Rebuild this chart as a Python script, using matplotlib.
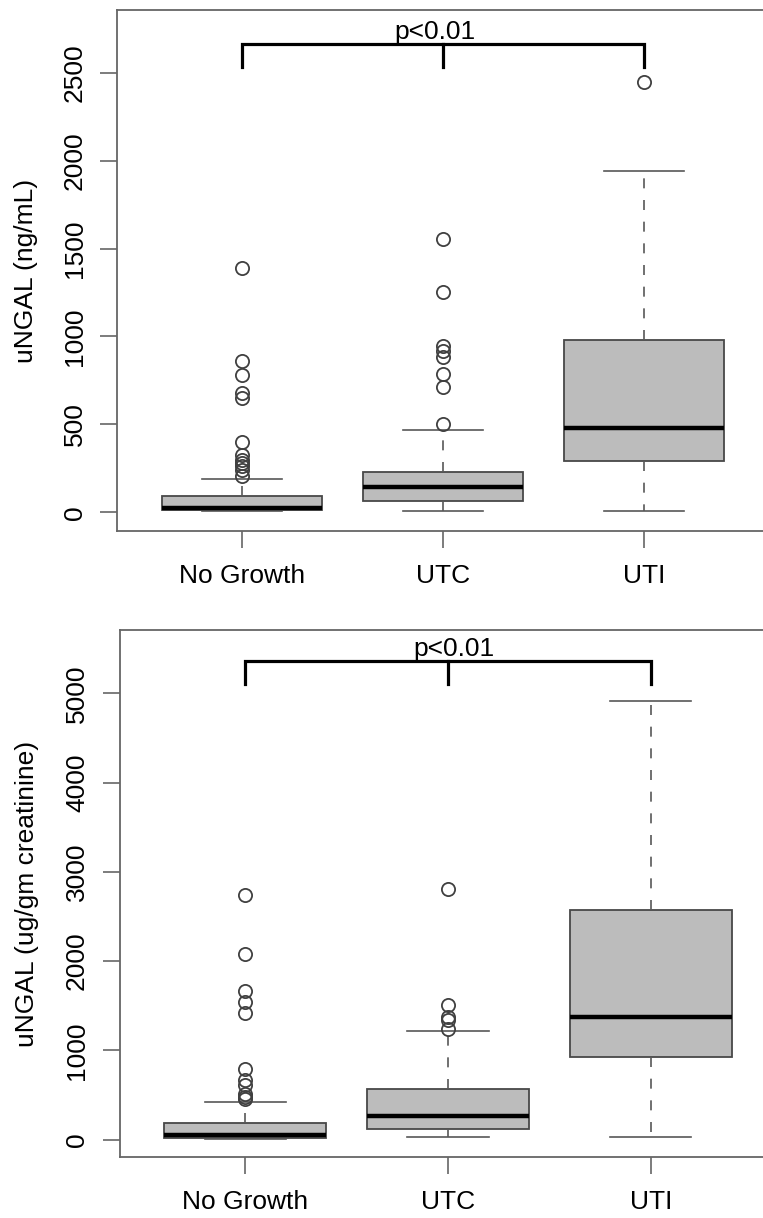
#! /usr/bin/env python3

import matplotlib
matplotlib.use('Agg')
import matplotlib.pyplot as plt

plt.rcParams['font.family'] = ['Liberation Sans', 'DejaVu Sans']

groups = ['No Growth', 'UTC', 'UTI']
positions = [1, 2, 3]

# uNGAL (ng/mL)
ml_q1 = [11, 62, 291]
ml_med = [25, 144, 481]
ml_q3 = [91, 228, 980]
ml_lo = [5, 8, 8]
ml_hi = [190, 467, 1939]
ml_fliers = [
    [1392, 858, 782, 678, 650, 398, 328, 298, 281, 261, 243, 205],
    [1555, 1252, 945, 918, 885, 785, 710, 504],
    [2449],
]
ml_ticks = [0, 500, 1000, 1500, 2000, 2500]

# uNGAL (ug/gm creatinine)
cr_q1 = [22, 122, 929]
cr_med = [48, 265, 1378]
cr_q3 = [186, 565, 2571]
cr_lo = [11, 24, 26]
cr_hi = [422, 1218, 4920]
cr_fliers = [
    [2739, 2085, 1666, 1543, 1419, 788, 664, 608, 516, 480, 460],
    [2812, 1510, 1375, 1338, 1244],
    [],
]
cr_ticks = [0, 1000, 2000, 3000, 4000, 5000]

# significance brackets: (bar height, leg bottom, text baseline)
ml_bracket = (2665, 2530, 2690)
cr_bracket = (5368, 5101, 5421)

FS = 19
GRAY = '#666666'


def make_stats(q1, med, q3, lo, hi, fliers):
    out = []
    for i in range(len(q1)):
        out.append(dict(q1=q1[i], med=med[i], q3=q3[i], whislo=lo[i],
                        whishi=hi[i], fliers=fliers[i], label=groups[i]))
    return out


def draw(ax, stats, ticks, ylim, ylabel, bracket, text_x):
    ax.bxp(stats, positions=positions, widths=0.8, capwidths=0.4,
           patch_artist=True, showfliers=True,
           boxprops=dict(facecolor='#bcbcbc', edgecolor='#484848', linewidth=1.3),
           medianprops=dict(color='black', linewidth=3.2),
           whiskerprops=dict(color='#585858', linewidth=1.2, linestyle=(0, (6, 7))),
           capprops=dict(color='#585858', linewidth=1.2),
           flierprops=dict(marker='o', markerfacecolor='none',
                           markeredgecolor='#404040', markersize=9.5,
                           markeredgewidth=1.3))
    ax.set_xlim(0.38, 3.62)
    ax.set_ylim(*ylim)
    ax.set_xticks(positions)
    ax.set_xticklabels(groups, fontsize=FS)
    ax.set_yticks(ticks)
    ax.set_yticklabels([str(t) for t in ticks], fontsize=FS,
                       rotation=90, va='center')
    ax.tick_params(axis='both', direction='out', length=12, width=1.2,
                   color=GRAY)
    ax.tick_params(axis='x', pad=12)
    ax.tick_params(axis='y', pad=10)
    for s in ax.spines.values():
        s.set_color(GRAY)
        s.set_linewidth(1.3)
    ax.set_ylabel(ylabel, fontsize=FS, va='center')
    ax.yaxis.set_label_coords(-0.141, 0.5)

    top, leg, base = bracket
    ax.plot([1, 1, 3, 3], [leg, top, top, leg], color='black', lw=2.3,
            solid_joinstyle='miter', clip_on=False)
    ax.plot([2, 2], [top, leg], color='black', lw=2.3)
    ax.text(text_x, base, 'p<0.01', fontsize=FS, ha='center', va='baseline')


fig = plt.figure(figsize=(7.63, 12.18), dpi=100)
ax1 = fig.add_axes([117.4 / 763, 1 - 531 / 1218, 651.2 / 763, 521 / 1218])
ax2 = fig.add_axes([119.5 / 763, 1 - 1157 / 1218, 657 / 763, 527 / 1218])

draw(ax1, make_stats(ml_q1, ml_med, ml_q3, ml_lo, ml_hi, ml_fliers),
     ml_ticks, (-106, 2856), 'uNGAL (ng/mL)', ml_bracket, 1.96)
draw(ax2, make_stats(cr_q1, cr_med, cr_q3, cr_lo, cr_hi, cr_fliers),
     cr_ticks, (-195, 5710), 'uNGAL (ug/gm creatinine)', cr_bracket, 2.03)

fig.savefig('out.png', dpi=100)
